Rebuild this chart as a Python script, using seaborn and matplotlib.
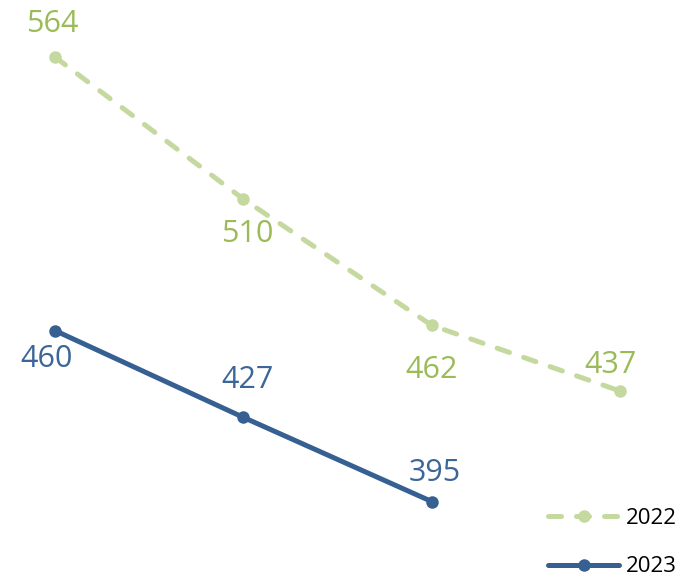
import matplotlib.pyplot as plt
import seaborn as sns

sns.set_style("white")
plt.rcParams['font.family'] = ['Open Sans', 'DejaVu Sans']

years = ["2022", "2023"]
x_2022 = [0, 1, 2, 3]
v_2022 = [564, 510, 462, 437]
x_2023 = [0, 1, 2]
v_2023 = [460, 427, 395]

# label offsets in pixels (dx, dy) relative to each point
off_2022 = [(-3, 33), (4, -35), (0, -45), (-10, 26)]
off_2023 = [(-8, -28), (4, 37), (3, 29)]

line_22 = "#c5d89f"
text_22 = "#9bbb59"
line_23 = "#376092"
text_23 = "#3d6698"

fig = plt.figure(figsize=(6.86, 5.77), dpi=100)
ax = fig.add_axes([0, 0, 1, 1])

sns.lineplot(x=x_2022, y=v_2022, ax=ax, color=line_22, lw=3.6,
             ls=(0, (2.6, 3.0)), dash_capstyle='round',
             marker='o', markersize=9, markeredgewidth=0, label=years[0])
sns.lineplot(x=x_2023, y=v_2023, ax=ax, color=line_23, lw=3.6,
             marker='o', markersize=9, markeredgewidth=0, label=years[1])

for xv, yv, (dx, dy) in zip(x_2022, v_2022, off_2022):
    ax.annotate(str(yv), (xv, yv), xytext=(dx, dy), textcoords='offset pixels',
                ha='center', va='center', fontsize=22, color=text_22)
for xv, yv, (dx, dy) in zip(x_2023, v_2023, off_2023):
    ax.annotate(str(yv), (xv, yv), xytext=(dx, dy), textcoords='offset pixels',
                ha='center', va='center', fontsize=22, color=text_23)

ax.set_xlim(-0.292, 3.35)
ax.set_ylim(366.3, 585.7)
ax.axis('off')

leg = ax.legend(loc='lower right', frameon=False, fontsize=16, handlelength=3.2,
                labelspacing=1.25, handletextpad=0.3, borderaxespad=0.0,
                bbox_to_anchor=(1.0, -0.016))
for t in leg.get_texts():
    t.set_color("black")

plt.savefig("out.png", dpi=100)
